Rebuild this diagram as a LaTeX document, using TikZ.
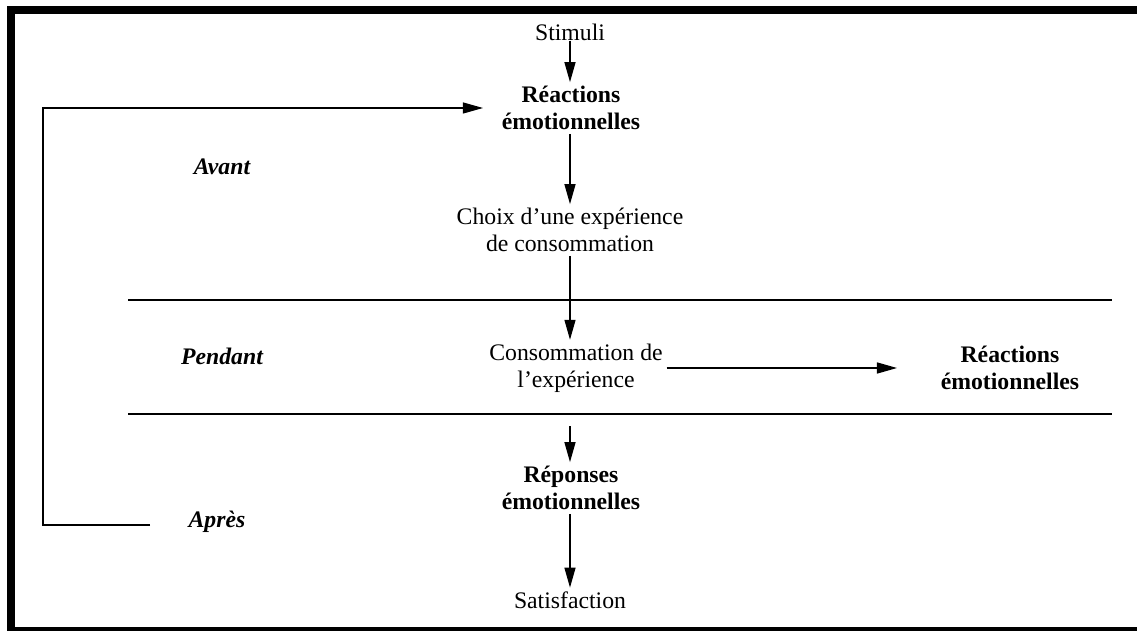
\documentclass[tikz,border=0pt]{standalone}
\usepackage{fontspec}
\setmainfont{Liberation Serif}
\usetikzlibrary{arrows.meta}

\begin{document}
\begin{tikzpicture}[x=0.02cm,y=-0.02cm,
	every node/.style={font=\fontsize{13.5}{15.5}\selectfont, align=center, inner sep=2pt},
	emo/.style={font=\fontsize{13.5}{15.5}\selectfont\bfseries},
	phase/.style={font=\fontsize{13.5}{15.5}\selectfont\bfseries\itshape},
	flow/.style={-{Triangle[length=4mm,width=2.2mm]}, line width=0.8pt},
	divider/.style={line width=1.4pt}]
	\useasboundingbox (0,0) rectangle (1137,631);
	%\draw[help lines] (0,0) grid[step=50] (1137,631);
	\begin{scope}
		\clip (0,0) rectangle (1137,631);
		\draw[line width=4.5pt] (1160,631) -- (11,631) -- (11,10) -- (1160,10);
	\end{scope}
	% phases
	\node[phase] (avant) at (222,167) {Avant};
	\node[phase] (pendant) at (222,356) {Pendant};
	\node[phase] (apres) at (217,522) {Après};
	% chain
	\node[inner sep=0pt] (stimuli) at (570,32) {Stimuli};
	\node[emo] (reacA) at (571,108) {Réactions\\émotionnelles};
	\node (choix) at (570,230) {Choix d’une expérience\\de consommation};
	\node (conso) at (576,368) {Consommation de\\l’expérience};
	\node[emo] (reacB) at (1010,368) {Réactions\\émotionnelles};
	\node[emo] (reponses) at (571,488) {Réponses\\émotionnelles};
	\node (satisf) at (570,600) {Satisfaction};
	% dividers
	\coordinate (dA1) at (128,300);
	\coordinate (dA2) at (1112,300);
	\coordinate (dB1) at (128,414);
	\coordinate (dB2) at (1112,414);
	\draw[divider] (dA1) -- (dA2);
	\draw[divider] (dB1) -- (dB2);
	% arrows
	\draw[flow] (stimuli.south) -- (reacA.north -| stimuli);
	\draw[flow] (reacA.south -| stimuli) -- (choix.north -| stimuli);
	\draw[flow] (choix.south -| stimuli) -- (conso.north -| stimuli);
	\draw[flow, shorten >=0.8cm] (conso.east) -- (reacB.west);
	\draw[flow, shorten <=0.6cm] (conso.south -| stimuli) -- (reponses.north -| stimuli);
	\draw[flow] (reponses.south -| stimuli) -- (satisf.north -| stimuli);
	% feedback
	\coordinate (back) at (150,525);
	\draw[flow, line width=0.6pt, shorten >=3mm] (back) -- ++(-107,0) |- (reacA.west);
\end{tikzpicture}
\end{document}
